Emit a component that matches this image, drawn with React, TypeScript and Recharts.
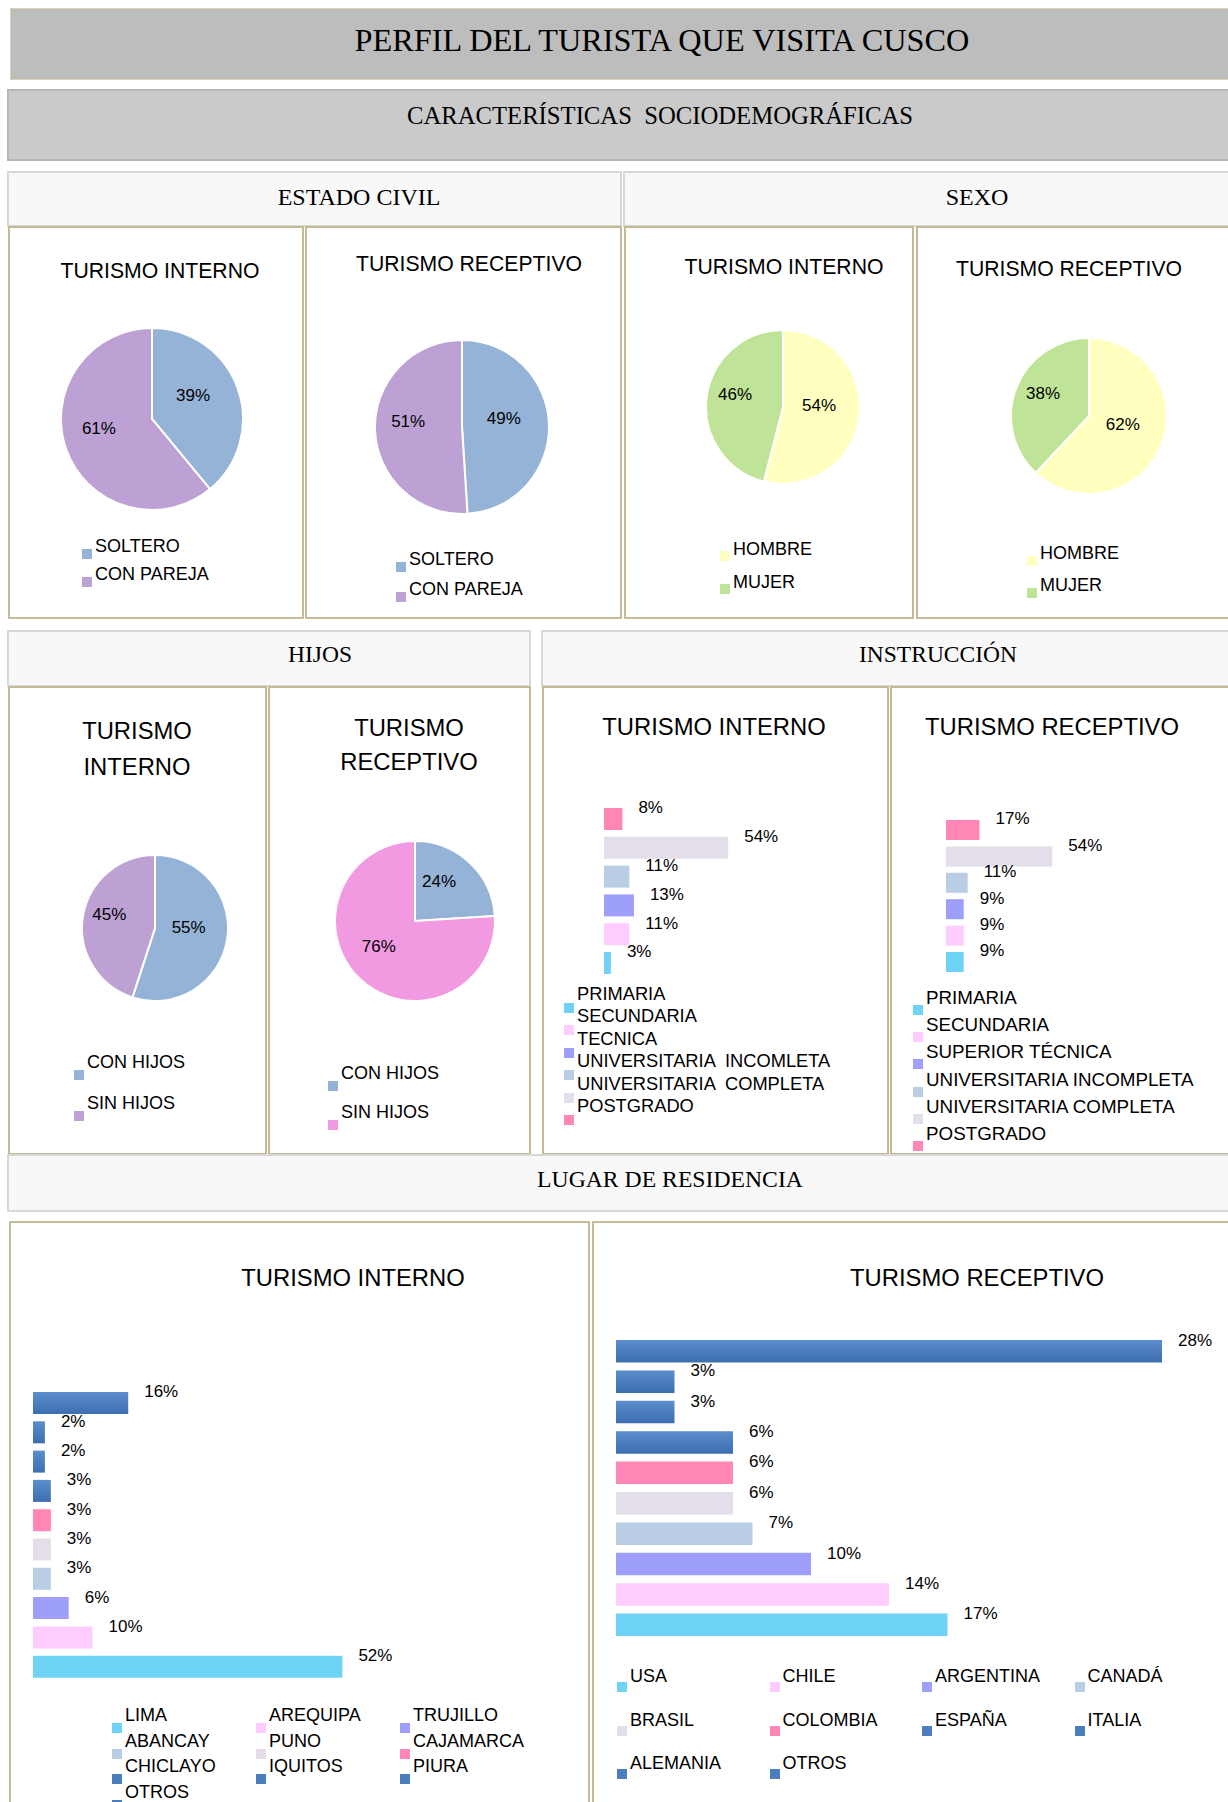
import { PieChart, Pie, Cell, BarChart, Bar, XAxis, YAxis, LabelList } from 'recharts';

const SANS = '"Liberation Sans", Arial, sans-serif';
const SERIF = '"Liberation Serif", "Times New Roman", serif';

const C_BLUE = '#95B3D7';
const C_PURPLE = '#BDA0D4';
const C_YELLOW = '#FFFFC0';
const C_GREEN = '#BFE397';
const C_PINK = '#F19AE2';
const C_CYAN = '#6FD3F5';
const C_LPINK = '#FFCCFF';
const C_VIOLET = '#9E9EFB';
const C_LBLUE = '#B9CDE5';
const C_LAV = '#E4DDEA';
const C_HOT = '#FF86B5';
const C_STEEL = '#4A7EBE';

// estado civil
const civilNames = ['SOLTERO', 'CON PAREJA'];
const civilInterno = [39, 61];
const civilReceptivo = [49, 51];
const civilColors = [C_BLUE, C_PURPLE];

// sexo
const sexoNames = ['HOMBRE', 'MUJER'];
const sexoInterno = [54, 46];
const sexoReceptivo = [62, 38];
const sexoColors = [C_YELLOW, C_GREEN];

// hijos
const hijosNames = ['CON HIJOS', 'SIN HIJOS'];
const hijosInterno = [55, 45];
const hijosReceptivo = [24, 76];
const hijosInternoColors = [C_BLUE, C_PURPLE];
const hijosReceptivoColors = [C_BLUE, C_PINK];

// instrucción
const instrInternoNames = ['PRIMARIA', 'SECUNDARIA', 'TECNICA', 'UNIVERSITARIA  INCOMLETA', 'UNIVERSITARIA  COMPLETA', 'POSTGRADO'];
const instrInterno = [3, 11, 13, 11, 54, 8];
const instrReceptivoNames = ['PRIMARIA', 'SECUNDARIA', 'SUPERIOR TÉCNICA', 'UNIVERSITARIA INCOMPLETA', 'UNIVERSITARIA COMPLETA', 'POSTGRADO'];
const instrReceptivo = [9, 9, 9, 11, 54, 17];
const instrColors = [C_CYAN, C_LPINK, C_VIOLET, C_LBLUE, C_LAV, C_HOT];

// lugar de residencia
const lugarInternoNames = ['LIMA', 'AREQUIPA', 'TRUJILLO', 'ABANCAY', 'PUNO', 'CAJAMARCA', 'CHICLAYO', 'IQUITOS', 'PIURA', 'OTROS'];
const lugarInterno = [52, 10, 6, 3, 3, 3, 3, 2, 2, 16];
const lugarReceptivoNames = ['USA', 'CHILE', 'ARGENTINA', 'CANADÁ', 'BRASIL', 'COLOMBIA', 'ESPAÑA', 'ITALIA', 'ALEMANIA', 'OTROS'];
const lugarReceptivo = [17, 14, 10, 7, 6, 6, 6, 3, 3, 28];
const lugarColors = [C_CYAN, C_LPINK, C_VIOLET, C_LBLUE, C_LAV, C_HOT, C_STEEL, C_STEEL, C_STEEL, C_STEEL];

const RADIAN = Math.PI / 180;

function Box({ x, y, w, h, style }: any) {
  return <div style={{ position: 'absolute', left: x, top: y, width: w, height: h, boxSizing: 'border-box', ...style }} />;
}

function Txt({ x, y, size, font = SANS, children }: any) {
  return (
    <div style={{ position: 'absolute', left: x, top: y, transform: 'translate(-50%, -50%)', fontFamily: font, fontSize: size, lineHeight: 1, whiteSpace: 'pre', color: '#000', textAlign: 'center' }}>
      {children}
    </div>
  );
}

function Legend({ x, y, names, colors, cols = 1, colStep = 0, rowStep, markerDy, size = 18 }: any) {
  return (
    <>
      {names.map((n: string, i: number) => {
        const lx = x + (i % cols) * colStep;
        const ly = y + Math.floor(i / cols) * rowStep;
        return (
          <div key={n}>
            <div style={{ position: 'absolute', left: lx, top: ly + markerDy - 5, width: 10, height: 10, background: colors[i] }} />
            <div style={{ position: 'absolute', left: lx + 13, top: ly, transform: 'translateY(-50%)', fontFamily: SANS, fontSize: size, lineHeight: 1, whiteSpace: 'pre', color: '#000' }}>{n}</div>
          </div>
        );
      })}
    </>
  );
}

const renderPieLabel = (p: any) => {
  const r = p.outerRadius * 0.55;
  const x = p.cx + r * Math.cos(-p.midAngle * RADIAN) - 6;
  const y = p.cy + r * Math.sin(-p.midAngle * RADIAN) - 7;
  return (
    <text x={x} y={y} fill="#000" fontSize={17} fontFamily={SANS} textAnchor="middle" dominantBaseline="central">
      {p.value}%
    </text>
  );
};

function PieBlock({ cx, cy, r, names, values, colors }: any) {
  const data = names.map((name: string, i: number) => ({ name, value: values[i] }));
  const size = 2 * r + 10;
  return (
    <div style={{ position: 'absolute', left: cx - size / 2, top: cy - size / 2 }}>
      <PieChart width={size} height={size} margin={{ top: 0, right: 0, bottom: 0, left: 0 }}>
        <Pie data={data} dataKey="value" cx="50%" cy="50%" outerRadius={r} startAngle={90} endAngle={-270}
          stroke="#fff" strokeWidth={2} labelLine={false} label={renderPieLabel} isAnimationActive={false}>
          {data.map((_: any, i: number) => <Cell key={i} fill={colors[i]} />)}
        </Pie>
      </PieChart>
    </div>
  );
}

const renderBarLabel = (p: any) => {
  const vb = p.viewBox || p;
  const x = p.x ?? vb.x;
  const y = p.y ?? vb.y;
  const width = p.width ?? vb.width;
  const height = p.height ?? vb.height;
  return (
    <text x={x + width + 16} y={y + height / 2 - 11} fill="#000" fontSize={17} fontFamily={SANS} dominantBaseline="central">
      {p.value}%
    </text>
  );
};

function HBar({ id, x, top, pitch, barH, perPct, names, values, colors }: any) {
  const data = names.map((name: string, i: number) => ({ name, value: values[i], color: colors[i] })).reverse();
  const max = Math.max(...values);
  const W = max * perPct;
  const H = pitch * data.length;
  const padTop = 20;
  return (
    <div style={{ position: 'absolute', left: x, top: top - (pitch - barH) / 2 - padTop }}>
      <BarChart layout="vertical" width={W + 50} height={H + padTop} data={data}
        margin={{ top: padTop, right: 50, bottom: 0, left: 0 }}>
        <defs>
          <linearGradient id={id} x1="0" y1="0" x2="0" y2="1">
            <stop offset="0%" stopColor="#5C8DCC" />
            <stop offset="100%" stopColor="#3C6FB0" />
          </linearGradient>
        </defs>
        <XAxis type="number" domain={[0, max]} hide />
        <YAxis type="category" dataKey="name" hide />
        <Bar dataKey="value" barSize={barH} isAnimationActive={false}>
          {data.map((d: any, i: number) => <Cell key={i} fill={d.color === C_STEEL ? `url(#${id})` : d.color} />)}
          <LabelList dataKey="value" content={renderBarLabel} />
        </Bar>
      </BarChart>
    </div>
  );
}

const cellStyle = { border: '2px solid #C4BA94', background: '#fff' };
const headStyle = { border: '2px solid #D8D8D8', background: '#F8F8F8' };

export default function App() {
  return (
    <div style={{ position: 'absolute', left: 0, top: 0, width: 1228, height: 1802, overflow: 'hidden', background: '#fff' }}>
      {/* cabeceras */}
      <Box x={10} y={8} w={1222} h={72} style={{ background: '#BDBDBD', border: '1.5px solid #DCD3B6' }} />
      <Txt x={662} y={40} size={32.3} font={SERIF}>PERFIL DEL TURISTA QUE VISITA CUSCO</Txt>
      <Box x={7} y={89} w={1224} h={72} style={{ background: '#CACACA', border: '2px solid #B6B6B6' }} />
      <Txt x={660} y={116} size={24.7} font={SERIF}>CARACTERÍSTICAS  SOCIODEMOGRÁFICAS</Txt>

      <Box x={7} y={171} w={615} h={56} style={headStyle} />
      <Box x={623} y={171} w={608} h={56} style={headStyle} />
      <Txt x={359} y={197} size={24} font={SERIF}>ESTADO CIVIL</Txt>
      <Txt x={977} y={197} size={24} font={SERIF}>SEXO</Txt>

      {/* fila 1 */}
      <Box x={8} y={226} w={296} h={393} style={cellStyle} />
      <Box x={305} y={226} w={317} h={393} style={cellStyle} />
      <Box x={624} y={226} w={290} h={393} style={cellStyle} />
      <Box x={916} y={226} w={315} h={393} style={cellStyle} />

      <Txt x={160} y={271} size={21.2}>TURISMO INTERNO</Txt>
      <Txt x={469} y={264} size={21.2}>TURISMO RECEPTIVO</Txt>
      <Txt x={784} y={267} size={21.2}>TURISMO INTERNO</Txt>
      <Txt x={1069} y={269} size={21.2}>TURISMO RECEPTIVO</Txt>

      <PieBlock cx={152} cy={419} r={91} names={civilNames} values={civilInterno} colors={civilColors} />
      <PieBlock cx={462} cy={427} r={87} names={civilNames} values={civilReceptivo} colors={civilColors} />
      <PieBlock cx={783} cy={407} r={77} names={sexoNames} values={sexoInterno} colors={sexoColors} />
      <PieBlock cx={1089} cy={416} r={78} names={sexoNames} values={sexoReceptivo} colors={sexoColors} />

      <Legend x={82} y={546} names={civilNames} colors={civilColors} rowStep={28} markerDy={7.5} />
      <Legend x={396} y={559} names={civilNames} colors={civilColors} rowStep={30} markerDy={8} />
      <Legend x={720} y={549} names={sexoNames} colors={sexoColors} rowStep={33} markerDy={7} />
      <Legend x={1027} y={553} names={sexoNames} colors={sexoColors} rowStep={31.5} markerDy={8} />

      {/* fila 2 */}
      <Box x={7} y={630} w={524} h={57} style={headStyle} />
      <Box x={541} y={630} w={690} h={57} style={headStyle} />
      <Txt x={320} y={655} size={23.5} font={SERIF}>HIJOS</Txt>
      <Txt x={938} y={655} size={23.5} font={SERIF}>INSTRUCCIÓN</Txt>

      <Box x={8} y={686} w={259} h={469} style={cellStyle} />
      <Box x={268} y={686} w={263} h={469} style={cellStyle} />
      <Box x={542} y={686} w={347} h={469} style={cellStyle} />
      <Box x={890} y={686} w={341} h={469} style={cellStyle} />

      <Txt x={137} y={731} size={23.8}>TURISMO</Txt>
      <Txt x={137} y={767} size={23.8}>INTERNO</Txt>
      <Txt x={409} y={728} size={23.8}>TURISMO</Txt>
      <Txt x={409} y={762} size={23.8}>RECEPTIVO</Txt>
      <Txt x={714} y={727} size={23.8}>TURISMO INTERNO</Txt>
      <Txt x={1052} y={727} size={23.8}>TURISMO RECEPTIVO</Txt>

      <PieBlock cx={155} cy={928} r={73} names={hijosNames} values={hijosInterno} colors={hijosInternoColors} />
      <PieBlock cx={415} cy={921} r={80} names={hijosNames} values={hijosReceptivo} colors={hijosReceptivoColors} />
      <Legend x={74} y={1062} names={hijosNames} colors={hijosInternoColors} rowStep={41} markerDy={12.5} />
      <Legend x={328} y={1073} names={hijosNames} colors={hijosReceptivoColors} rowStep={39} markerDy={12.5} />

      <HBar id="g1" x={604} top={808} pitch={28.8} barH={22} perPct={2.3}
        names={instrInternoNames} values={instrInterno} colors={instrColors} />
      <HBar id="g2" x={946} top={820} pitch={26.4} barH={20} perPct={1.97}
        names={instrReceptivoNames} values={instrReceptivo} colors={instrColors} />
      <Legend x={564} y={994} names={instrInternoNames} colors={instrColors} rowStep={22.4} markerDy={14} size={18.3} />
      <Legend x={913} y={998} names={instrReceptivoNames} colors={instrColors} rowStep={27.2} markerDy={12} size={18.8} />

      {/* fila 3 */}
      <Box x={7} y={1154} w={1224} h={58} style={headStyle} />
      <Txt x={670} y={1180} size={23.7} font={SERIF}>LUGAR DE RESIDENCIA</Txt>

      <Box x={9} y={1221} w={581} h={590} style={cellStyle} />
      <Box x={592} y={1221} w={640} h={590} style={cellStyle} />
      <Txt x={353} y={1278} size={23.8}>TURISMO INTERNO</Txt>
      <Txt x={977} y={1278} size={23.8}>TURISMO RECEPTIVO</Txt>

      <HBar id="g3" x={33} top={1392} pitch={29.3} barH={22} perPct={5.95}
        names={lugarInternoNames} values={lugarInterno} colors={lugarColors} />
      <HBar id="g4" x={616} top={1340} pitch={30.4} barH={22.5} perPct={19.5}
        names={lugarReceptivoNames} values={lugarReceptivo} colors={lugarColors} />
      <Legend x={112} y={1715} names={lugarInternoNames} colors={lugarColors} cols={3} colStep={144} rowStep={25.5} markerDy={13} />
      <Legend x={617} y={1676} names={lugarReceptivoNames} colors={lugarColors} cols={4} colStep={152.5} rowStep={43.6} markerDy={11} />
    </div>
  );
}
